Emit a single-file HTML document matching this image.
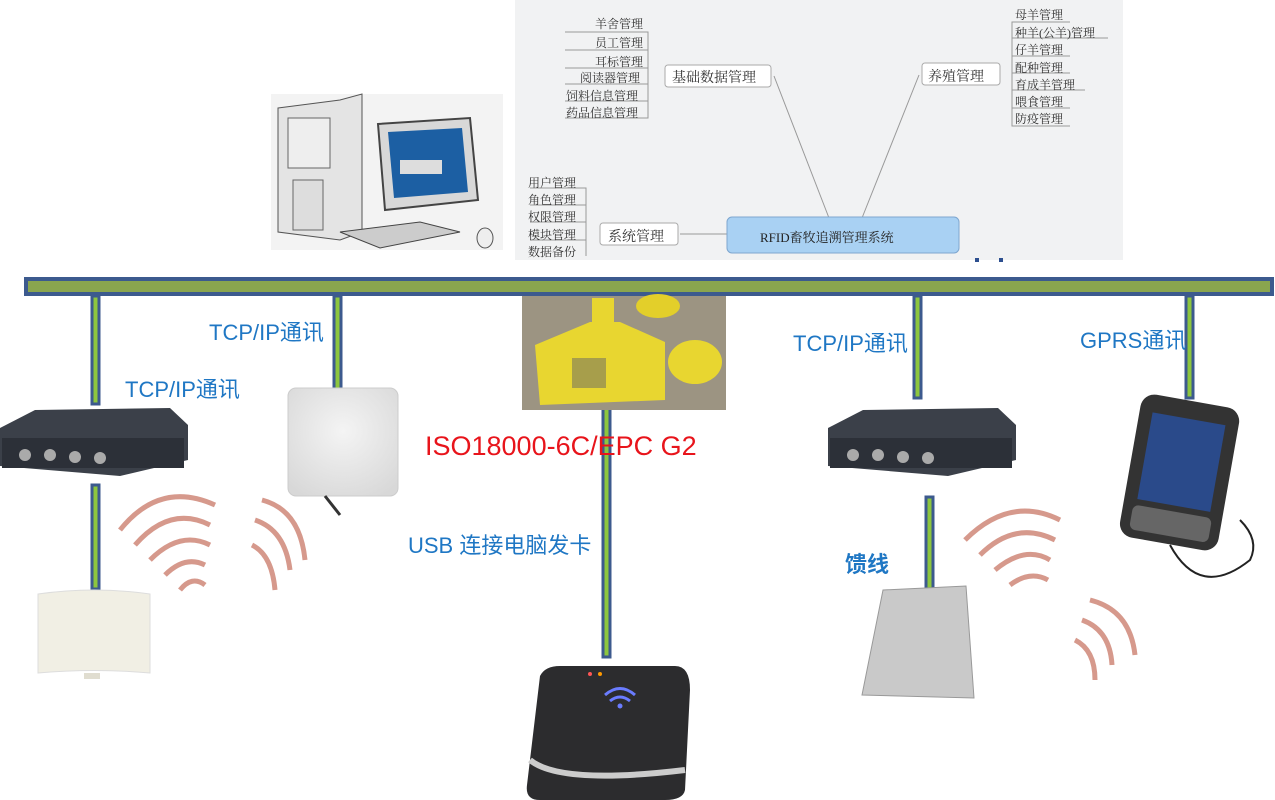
<!DOCTYPE html>
<html><head><meta charset="utf-8"><style>
body{margin:0;width:1275px;height:800px;background:#fff;overflow:hidden;position:relative;font-family:"Liberation Sans","Noto Sans CJK SC",sans-serif}
.t{position:absolute;white-space:nowrap}
.b{color:#1f77c4;font-size:22px}
.m{font-family:"Liberation Serif","Noto Serif CJK SC",serif;font-size:12px;color:#333}
</style></head><body>
<svg width="1275" height="800" style="position:absolute;left:0;top:0">
<defs>
<radialGradient id="sc" cx="50%" cy="40%" r="70%"><stop offset="0" stop-color="#f4f4f4"/><stop offset="1" stop-color="#d8d8d8"/></radialGradient>
</defs>
<rect x="515" y="0" width="608" height="260" fill="#f1f2f3"/>
<rect x="271" y="94" width="232" height="156" fill="#f3f3f3"/>
<polygon points="278,108 340,100 362,94 362,232 340,240 278,232" fill="#e4e4e4" stroke="#555"/>
<rect x="288" y="118" width="42" height="50" fill="#eee" stroke="#666"/>
<rect x="293" y="180" width="30" height="50" fill="#ddd" stroke="#666"/>
<polygon points="378,124 470,118 478,200 385,210" fill="#d8d8d8" stroke="#444" stroke-width="2"/>
<polygon points="388,132 462,128 468,192 394,198" fill="#1c5fa3"/>
<rect x="400" y="160" width="42" height="14" fill="#ddd"/>
<polygon points="340,232 420,222 460,232 380,248" fill="#ccc" stroke="#444"/>
<ellipse cx="485" cy="238" rx="8" ry="10" fill="#eee" stroke="#555"/>
<g stroke="#999" fill="none" stroke-width="1">
<line x1="774" y1="76" x2="829" y2="218"/><line x1="919" y1="75" x2="862" y2="218"/>
<line x1="680" y1="234" x2="728" y2="234"/>
<path d="M565,32 H648 V118 H565 M565,50 H648 M565,68 H648 M565,84 H648 M565,101 H648"/>
<path d="M1070,22 H1012 V126 H1070 M1012,38 H1108 M1012,56 H1070 M1012,73 H1070 M1012,90 H1085 M1012,108 H1070"/>
<path d="M530,188 H586 V256 M530,205 H586 M530,222 H586 M530,240 H586"/>
</g>
<g fill="#fff" stroke="#aaa"><rect x="665" y="65" width="106" height="22" rx="3"/><rect x="922" y="63" width="78" height="22" rx="3"/><rect x="600" y="223" width="78" height="22" rx="3"/></g>
<rect x="727" y="217" width="232" height="36" rx="5" fill="#a9d1f3" stroke="#7ea6cf"/>
<rect x="975" y="258" width="4" height="4" fill="#2d4f8f"/><rect x="999" y="258" width="4" height="4" fill="#2d4f8f"/>
<rect x="26" y="279" width="1246" height="15" fill="#8aa54e" stroke="#3c5a8e" stroke-width="4"/>
<g fill="#8dc63f" stroke="#3c5a8e" stroke-width="3">
<rect x="92" y="296" width="7" height="108"/><rect x="92" y="485" width="7" height="104"/>
<rect x="334" y="296" width="7" height="118"/>
<rect x="603" y="405" width="7" height="252"/>
<rect x="914" y="296" width="7" height="102"/><rect x="926" y="497" width="7" height="103"/>
<rect x="1186" y="296" width="7" height="102"/>
</g>
<rect x="522" y="296" width="204" height="114" fill="#9c9482"/>
<polygon points="535,345 590,322 620,322 665,342 665,400 540,405" fill="#e8d630"/>
<rect x="592" y="298" width="22" height="28" fill="#e8d630"/>
<ellipse cx="658" cy="306" rx="22" ry="12" fill="#e3cf2a"/>
<ellipse cx="695" cy="362" rx="27" ry="22" fill="#e8d630"/>
<rect x="572" y="358" width="34" height="30" fill="#666" opacity=".5"/>
<g id="rd">
<polygon points="0,428 35,410 170,408 188,425 188,460 120,476 0,466" fill="#3b4049"/>
<rect x="2" y="438" width="182" height="30" fill="#2c3038"/>
<circle cx="25" cy="455" r="6" fill="#aaa"/><circle cx="50" cy="455" r="6" fill="#aaa"/><circle cx="75" cy="457" r="6" fill="#aaa"/><circle cx="100" cy="458" r="6" fill="#aaa"/>
</g>
<use href="#rd" transform="translate(828,0)"/>
<rect x="288" y="388" width="110" height="108" rx="8" fill="url(#sc)" stroke="#ccc"/>
<path d="M325,496 L340,515" stroke="#333" stroke-width="3"/>
<g fill="none" stroke="#b5462f" stroke-width="5" opacity=".55">
<path d="M120,530 Q160,480 215,505"/><path d="M135,545 Q170,505 210,525"/><path d="M150,560 Q180,530 210,545"/><path d="M165,575 Q185,555 205,565"/><path d="M180,590 Q192,575 205,585"/>
<path d="M262,500 Q300,510 305,560"/><path d="M255,520 Q285,530 290,570"/><path d="M252,545 Q272,555 275,590"/>
<path d="M965,540 Q1010,495 1060,520"/><path d="M980,555 Q1015,520 1055,540"/><path d="M995,570 Q1025,545 1050,560"/><path d="M1010,585 Q1030,570 1048,580"/>
<path d="M1090,600 Q1130,610 1135,655"/><path d="M1082,620 Q1110,630 1112,665"/><path d="M1075,640 Q1095,650 1095,680"/>
</g>
<path d="M38,594 Q95,586 150,594 V673 Q95,668 38,673 Z" fill="#f1efe4" stroke="#ddd"/>
<rect x="84" y="673" width="16" height="6" fill="#e0ddd0"/>
<polygon points="883,590 966,586 974,698 862,695" fill="#c9c9c9" stroke="#999"/>
<g transform="rotate(10 1180 470)">
<rect x="1130" y="400" width="100" height="145" rx="14" fill="#333"/>
<rect x="1143" y="418" width="74" height="88" fill="#2a4a8a"/>
<rect x="1140" y="512" width="80" height="25" rx="6" fill="#666"/>
</g>
<path d="M1170,545 Q1200,600 1250,560 Q1260,540 1240,520" stroke="#222" fill="none" stroke-width="2"/>
<path d="M540,676 Q545,666 560,666 L675,666 Q690,666 690,690 L685,790 Q683,800 665,800 L540,800 Q525,800 527,785 Z" fill="#2c2c2e"/>
<path d="M530,760 Q560,785 685,770" stroke="#ccc" stroke-width="6" fill="none"/>
<g fill="none" stroke="#6a7cff" stroke-width="3"><path d="M605,695 Q620,682 635,695"/><path d="M610,701 Q620,693 630,701"/></g>
<circle cx="620" cy="706" r="2.5" fill="#6a7cff"/>
<circle cx="590" cy="674" r="2" fill="#f55"/><circle cx="600" cy="674" r="2" fill="#f90"/>
</svg>
<div class="t m" style="left:595px;top:15px">羊舍管理</div>
<div class="t m" style="left:595px;top:34px">员工管理</div>
<div class="t m" style="left:595px;top:53px">耳标管理</div>
<div class="t m" style="left:580px;top:69px">阅读器管理</div>
<div class="t m" style="left:566px;top:87px">饲料信息管理</div>
<div class="t m" style="left:566px;top:104px">药品信息管理</div>
<div class="t m" style="left:672px;top:67px;font-size:14px">基础数据管理</div>
<div class="t m" style="left:1015px;top:6px">母羊管理</div>
<div class="t m" style="left:1015px;top:24px">种羊(公羊)管理</div>
<div class="t m" style="left:1015px;top:41px">仔羊管理</div>
<div class="t m" style="left:1015px;top:59px">配种管理</div>
<div class="t m" style="left:1015px;top:76px">育成羊管理</div>
<div class="t m" style="left:1015px;top:93px">喂食管理</div>
<div class="t m" style="left:1015px;top:110px">防疫管理</div>
<div class="t m" style="left:928px;top:66px;font-size:14px">养殖管理</div>
<div class="t m" style="left:528px;top:174px">用户管理</div>
<div class="t m" style="left:528px;top:191px">角色管理</div>
<div class="t m" style="left:528px;top:208px">权限管理</div>
<div class="t m" style="left:528px;top:226px">模块管理</div>
<div class="t m" style="left:528px;top:243px">数据备份</div>
<div class="t m" style="left:608px;top:226px;font-size:14px">系统管理</div>
<div class="t m" style="left:760px;top:227px;font-size:13px;color:#222">RFID畜牧追溯管理系统</div>
<div class="t b" style="left:209px;top:315px">TCP/IP通讯</div>
<div class="t b" style="left:125px;top:372px">TCP/IP通讯</div>
<div class="t b" style="left:793px;top:326px">TCP/IP通讯</div>
<div class="t b" style="left:1080px;top:323px">GPRS通讯</div>
<div class="t" style="left:425px;top:431px;font-size:27px;color:#e8141b">ISO18000-6C/EPC G2</div>
<div class="t b" style="left:408px;top:528px">USB 连接电脑发卡</div>
<div class="t b" style="left:845px;top:547px;font-weight:bold">馈线</div>
</body></html>
